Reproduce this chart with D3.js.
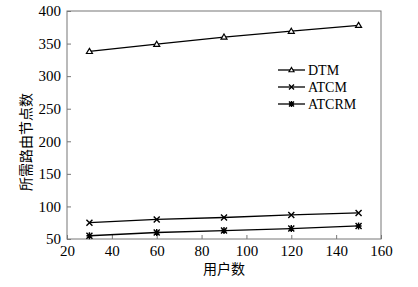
<!DOCTYPE html>
<html><head><meta charset="utf-8">
<script src="https://cdn.jsdelivr.net/npm/d3@7"></script>
<style>body{margin:0;background:#fff}</style>
</head><body><svg id="c" width="418" height="287"></svg>
<script>
const users = [30, 60, 90, 120, 150];
const dtm = [338, 349, 360, 369, 378];
const atcm = [75, 80, 83, 87, 90];
const atcrm = [55, 60, 63, 66, 70];
const seriesNames = ["DTM", "ATCM", "ATCRM"];
const xTicks = [20, 40, 60, 80, 100, 120, 140, 160];
const yTicks = [50, 100, 150, 200, 250, 300, 350, 400];
const xLabel = "用户数";
const yLabel = "所需路由节点数";

const serif = "'Liberation Serif', 'Times New Roman', serif";
const cjk = "'Noto Sans CJK SC', sans-serif";
const svg = d3.select("#c");
const m = {l: 67, t: 11, r: 381, b: 239};
const x = d3.scaleLinear().domain([20, 160]).range([m.l, m.r]);
const y = d3.scaleLinear().domain([50, 400]).range([m.b, m.t]);
const frame = "#777";

svg.append("rect").attr("x", m.l).attr("y", m.t).attr("width", m.r - m.l).attr("height", m.b - m.t)
  .attr("fill", "none").attr("stroke", frame).attr("stroke-width", 1);

const gx = svg.append("g").attr("transform", `translate(0,${m.b})`)
  .call(d3.axisBottom(x).tickValues(xTicks).tickSize(-4).tickPadding(8).tickFormat(d3.format("d")));
const gy = svg.append("g").attr("transform", `translate(${m.l},0)`)
  .call(d3.axisLeft(y).tickValues(yTicks).tickSize(-4).tickPadding(6).tickFormat(d3.format("d")));
[gx, gy].forEach(g => {
  g.attr("font-family", null).attr("font-size", null);
  g.select(".domain").remove();
  g.selectAll(".tick line").attr("stroke", frame);
  g.selectAll(".tick text").style("font-family", serif).style("font-size", "15px").attr("fill", "#000");
});
gx.selectAll(".tick text").attr("dy", "0.6em");

svg.append("text").attr("x", 224).attr("y", 274).attr("text-anchor", "middle")
  .style("font-family", cjk).style("font-size", "14px").text(xLabel);
svg.append("text").attr("transform", "translate(31,142) rotate(-90)").attr("text-anchor", "middle")
  .style("font-family", cjk).style("font-size", "14px").text(yLabel);

function marker(g, type, cx, cy, s) {
  if (type === 0) {
    g.append("path").attr("d", `M${cx},${cy - s}L${cx + s},${cy + s * 0.7}L${cx - s},${cy + s * 0.7}Z`)
      .attr("fill", "#fff").attr("stroke", "#000").attr("stroke-width", 1.2);
  } else if (type === 1) {
    g.append("path").attr("d", `M${cx - s},${cy - s}L${cx + s},${cy + s}M${cx - s},${cy + s}L${cx + s},${cy - s}`)
      .attr("stroke", "#000").attr("stroke-width", 1.4);
  } else {
    g.append("path").attr("d", `M${cx - s},${cy - s}L${cx + s},${cy + s}M${cx - s},${cy + s}L${cx + s},${cy - s}M${cx},${cy - s - 0.5}L${cx},${cy + s + 0.5}M${cx - s},${cy}L${cx + s},${cy}`)
      .attr("stroke", "#000").attr("stroke-width", 1.4);
  }
}

const allSeries = [dtm, atcm, atcrm];
const line = d3.line().x((d, i) => x(users[i])).y(d => y(d));
allSeries.forEach((vals, k) => {
  svg.append("path").datum(vals).attr("d", line).attr("fill", "none").attr("stroke", "#000").attr("stroke-width", 1.3);
  const g = svg.append("g");
  vals.forEach((v, i) => marker(g, k, x(users[i]), y(v), 3));
});

const legY = [70, 87, 104];
seriesNames.forEach((n, k) => {
  svg.append("line").attr("x1", 278).attr("x2", 305).attr("y1", legY[k]).attr("y2", legY[k])
    .attr("stroke", "#000").attr("stroke-width", 1.3);
  marker(svg.append("g"), k, 291.5, legY[k], 2.5);
  svg.append("text").attr("x", 308).attr("y", legY[k]).attr("dy", "0.35em")
    .style("font-family", serif).style("font-size", "14px").text(n);
});
</script></body></html>
